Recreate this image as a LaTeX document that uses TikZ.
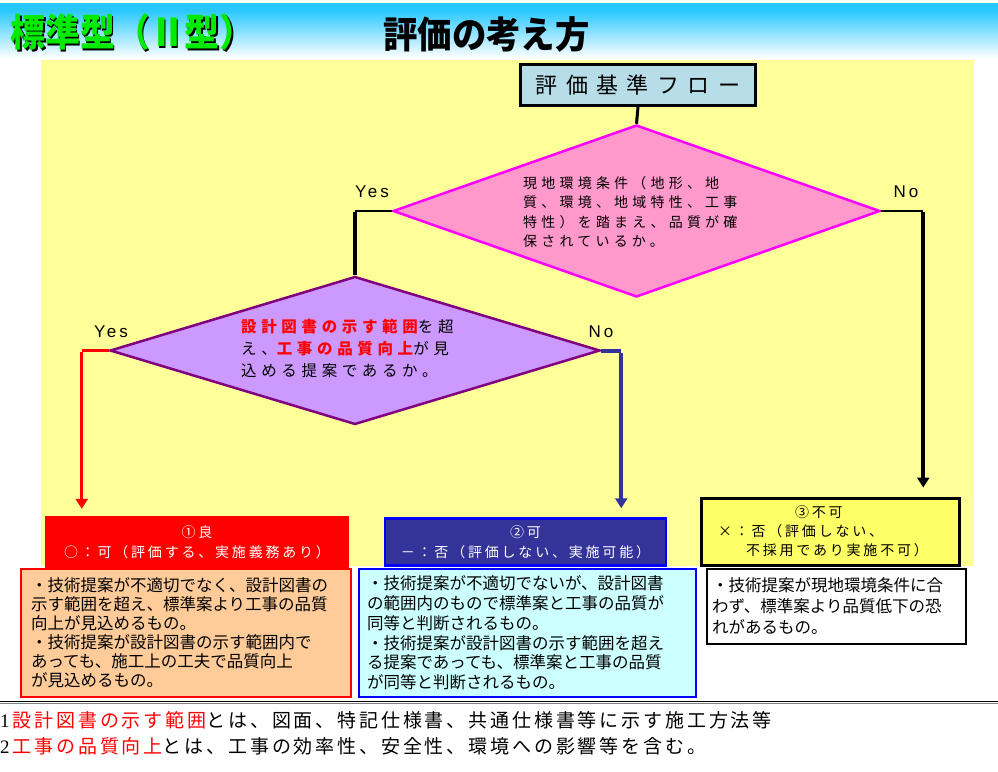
\documentclass[tikz,border=0pt]{standalone}
\usepackage{fontspec}
\setmainfont{Noto Sans CJK JP}
\newfontfamily\jpA[LetterSpace=38]{Noto Sans CJK JP}
\newfontfamily\jpB[LetterSpace=30]{Noto Sans CJK JP}
\newfontfamily\jpC[LetterSpace=20]{Noto Sans CJK JP}
\newfontfamily\jpD[LetterSpace=15]{Noto Sans CJK JP}
\newfontfamily\labfont[LetterSpace=18]{Liberation Sans}
\newfontfamily\numfont{Liberation Serif}
\usetikzlibrary{arrows.meta,shapes.geometric}
\definecolor{skyc}{RGB}{40,200,255}
\definecolor{bgyellow}{RGB}{255,255,153}
\definecolor{flowblue}{RGB}{183,222,232}
\definecolor{pinkf}{RGB}{255,153,204}
\definecolor{magentab}{RGB}{255,0,255}
\definecolor{purplef}{RGB}{204,153,255}
\definecolor{purpleb}{RGB}{128,0,128}
\definecolor{navy1}{RGB}{51,51,153}
\definecolor{blueb}{RGB}{0,0,255}
\definecolor{orangef}{RGB}{255,204,153}
\definecolor{cyanf}{RGB}{204,255,255}
\definecolor{yellow3}{RGB}{255,255,102}
\definecolor{titlegreen}{RGB}{0,235,0}
\begin{document}
\begin{tikzpicture}[x=1pt,y=-1pt,
  lab/.style={font=\labfont\fontsize{17}{17}\selectfont, inner sep=0pt},
  tip/.style={-{Triangle[width=12pt,length=10pt]}},
  body/.style={font=\fontsize{16.5}{19}\selectfont, align=left, inner sep=0pt},
  head/.style={font=\jpC\fontsize{14}{20}\selectfont, align=center, inner sep=0pt}]
\useasboundingbox (0,0) rectangle (998,771);
\fill[white] (0,0) rectangle (998,771);
\fill[skyc] (0,3) rectangle (998,10);
\shade[top color=skyc, bottom color=white] (0,10) rectangle (998,58);
\fill[bgyellow] (41,60) rectangle (974,566);
% titles
\node[anchor=west, inner sep=0pt, text=titlegreen, font=\bfseries\fontsize{38}{38}\selectfont, xscale=0.92] (ttl) at (10,33) {\rlap{\kern2pt\raisebox{-2pt}{\color{black}標準型（Ⅱ型）}}標準型（Ⅱ型）};
\node[anchor=west, inner sep=0pt, font=\bfseries\fontsize{37}{37}\selectfont, xscale=0.93] (ttl2) at (383,34) {評価の考え方};
% flow
\node[draw, line width=3pt, fill=flowblue, minimum width=235pt, minimum height=41pt, inner sep=0pt, font=\jpA\fontsize{22}{22}\selectfont] (flow) at (638,85) {評価基準フロー};
\node[diamond, draw=magentab, line width=2.5pt, fill=pinkf, minimum width=487pt, minimum height=172pt, inner sep=0pt] (d1) at (636.5,211) {};
\node[anchor=north west, align=left, inner sep=0pt, font=\jpB\fontsize{14}{19.5}\selectfont] (d1t) at (523,176) {現地環境条件（地形、地\\質、環境、地域特性、工事\\特性）を踏まえ、品質が確\\保されているか。};
\node[diamond, draw=purpleb, line width=2.5pt, fill=purplef, minimum width=490pt, minimum height=148pt, inner sep=0pt] (d2) at (355,350.5) {};
\node[anchor=north west, align=left, inner sep=0pt, font=\jpB\fontsize{15.5}{22}\selectfont] (d2t) at (241,319) {\textcolor{red}{\bfseries 設計図書の示す範囲}を超\\え、\textcolor{red}{\bfseries 工事の品質向上}が見\\込める提案であるか。};
% boxes
\node[fill=red, minimum width=304pt, minimum height=52pt, text=white, head] (box1) at (197,542) {①良\\○：可（評価する、実施義務あり）};
\node[draw=red, line width=2pt, fill=orangef, minimum width=330pt, minimum height=128pt, text width=310pt, body] (body1) at (186,633) {・技術提案が不適切でなく、設計図書の\\示す範囲を超え、標準案より工事の品質\\向上が見込めるもの。\\・技術提案が設計図書の示す範囲内で\\あっても、施工上の工夫で品質向上\\が見込めるもの。};
\node[draw=blueb, line width=2.5pt, fill=navy1, minimum width=281pt, minimum height=47pt, text=white, head] (box2) at (525.5,542) {②可\\－：否（評価しない、実施可能）};
\node[draw=blueb, line width=2pt, fill=cyanf, minimum width=337pt, minimum height=128pt, text width=321pt, body, font=\fontsize{16.5}{19.8}\selectfont] (body2) at (527.5,633) {・技術提案が不適切でないが、設計図書\\の範囲内のもので標準案と工事の品質が\\同等と判断されるもの。\\・技術提案が設計図書の示す範囲を超え\\る提案であっても、標準案と工事の品質\\が同等と判断されるもの。};
\node[draw, line width=3pt, fill=yellow3, minimum width=258pt, minimum height=67pt, text width=224pt, align=left, inner sep=0pt, font=\jpC\fontsize{14}{19}\selectfont] (box3) at (830,531.5) {\hspace*{77pt}③不可\\×：否（評価しない、\\\hspace*{28pt}不採用であり実施不可）};
\node[draw, line width=2pt, fill=white, minimum width=259pt, minimum height=75pt, text width=249pt, body, font=\fontsize{16.5}{21}\selectfont] (body3) at (836.5,606.5) {・技術提案が現地環境条件に合\\わず、標準案より品質低下の恐\\れがあるもの。};
% connectors
\draw[line width=3pt] (flow.south) -- (d1.north);
\coordinate (c1) at (d1.west -| d2.north);
\draw[line width=2pt] (d1.west) -- (c1);
\draw[line width=4pt] ([yshift=-1pt]c1) -- (d2.north);
\coordinate (c2) at ([xshift=42pt]d1.east);
\draw[line width=2pt] (d1.east) -- (c2);
\draw[line width=4pt, tip, shorten >=9pt] ([yshift=-1pt]c2) -- (c2 |- box3.north);
\coordinate (c3) at ([xshift=-27pt]d2.west);
\draw[red, line width=3pt] (d2.west) -- (c3);
\draw[red, line width=3pt, tip, shorten >=7pt] ([yshift=-1.5pt]c3) -- (c3 |- box1.north);
\coordinate (c4) at ([xshift=20pt]d2.east);
\draw[navy1, line width=4pt] (d2.east) -- (c4);
\draw[navy1, line width=4pt, tip, shorten >=9pt] ([yshift=-2pt]c4) -- (c4 |- box2.north);
% labels
\node[lab] (y1) at (372,192) {Yes};
\node[lab] (n1) at (906,192) {No};
\node[lab] (y2) at (111,332) {Yes};
\node[lab] (n2) at (601,332) {No};
% notes
\draw[line width=1.5pt] (0,701.5) -- (998,701.5);
\draw[gray, line width=1pt] (0,703.5) -- (998,703.5);
\node[anchor=west, inner sep=0pt, font=\jpD\fontsize{19}{19}\selectfont] (note1) at (0,720) {{\numfont 1}\hspace{3pt}\textcolor{red}{設計図書の示す範囲}とは、図面、特記仕様書、共通仕様書等に示す施工方法等};
\node[anchor=west, inner sep=0pt, font=\jpD\fontsize{19}{19}\selectfont] (note2) at (0,746) {{\numfont 2}\hspace{3pt}\textcolor{red}{工事の品質向上}とは、工事の効率性、安全性、環境への影響等を含む。};
\end{tikzpicture}
\end{document}
